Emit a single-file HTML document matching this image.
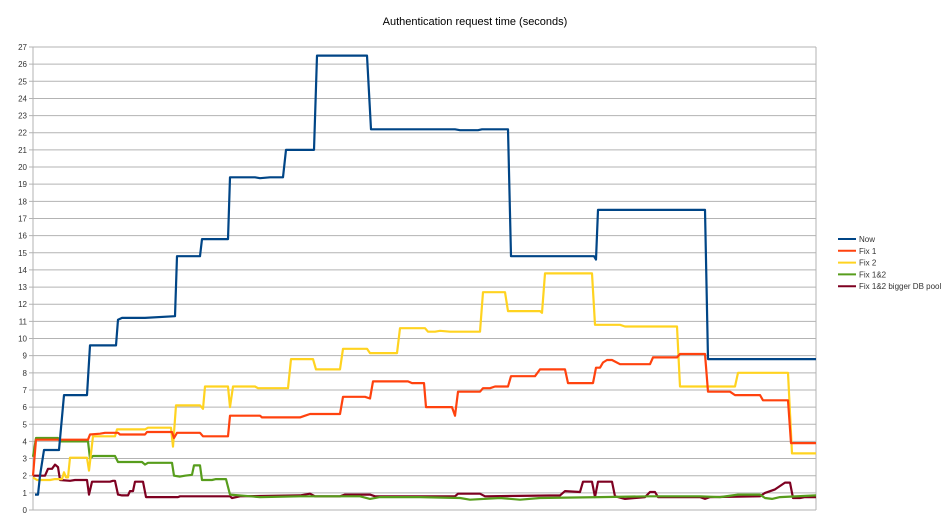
<!DOCTYPE html>
<html><head><meta charset="utf-8"><style>
body{margin:0;background:#fff;}
svg{display:block;font-family:"Liberation Sans",sans-serif;}
</style></head><body>
<svg id="chart" width="950" height="526">
<text x="475" y="25" text-anchor="middle" font-size="11" fill="#000">Authentication request time (seconds)</text>
<g id="grid"></g>
<g id="series"></g>
<g id="legend"></g>
</svg>
<script>
const seriesNames = ["Now","Fix 1","Fix 2","Fix 1&2","Fix 1&2 bigger DB pool"];
const seriesColors = ["#004586","#ff420e","#ffd320","#579d1c","#7e0021"];
const yTicks = [0,1,2,3,4,5,6,7,8,9,10,11,12,13,14,15,16,17,18,19,20,21,22,23,24,25,26,27];
const nowT = [2,5,7,11,26,31,54,57,83,85,89,112,142,144,167,169,195,197,222,227,237,250,253,281,284,334,338,422,427,445,449,475,478,561,563,565,672,675,783];
const nowV = [0.9,0.9,2.0,3.5,3.5,6.7,6.7,9.6,9.6,11.1,11.2,11.2,11.3,14.8,14.8,15.8,15.8,19.4,19.4,19.35,19.4,19.4,21.0,21.0,26.5,26.5,22.2,22.2,22.15,22.15,22.2,22.2,14.8,14.8,14.6,17.5,17.5,8.8,8.8];
const fix1T = [0,3,55,57,67,72,85,87,112,114,139,141,144,167,170,195,197,227,229,267,272,277,307,310,332,337,340,375,379,391,393,419,422,425,447,450,457,462,475,478,502,507,532,535,560,563,567,570,574,579,587,617,620,644,647,672,675,697,702,727,730,755,758,783];
const fix1V = [2.0,4.1,4.1,4.4,4.45,4.5,4.5,4.4,4.4,4.55,4.55,4.2,4.5,4.5,4.3,4.3,5.5,5.5,5.4,5.4,5.5,5.6,5.6,6.6,6.6,6.5,7.5,7.5,7.4,7.4,6.0,6.0,5.5,6.9,6.9,7.1,7.1,7.2,7.2,7.8,7.8,8.2,8.2,7.4,7.4,8.3,8.3,8.6,8.75,8.75,8.5,8.5,8.9,8.9,9.1,9.1,6.9,6.9,6.7,6.7,6.4,6.4,3.9,3.9];
const fix2T = [0,4,17,22,29,31,33,35,37,54,56,60,82,84,112,115,138,140,143,167,170,172,195,197,200,222,225,255,258,280,283,307,310,334,337,364,367,392,395,402,407,417,447,450,472,475,507,509,512,559,562,587,592,644,647,702,705,755,759,783];
const fix2V = [1.9,1.75,1.75,1.8,1.8,2.2,1.9,1.9,3.05,3.05,2.3,4.3,4.3,4.7,4.7,4.8,4.8,3.7,6.1,6.1,5.9,7.2,7.2,6.0,7.2,7.2,7.1,7.1,8.8,8.8,8.2,8.2,9.4,9.4,9.15,9.15,10.6,10.6,10.4,10.4,10.45,10.4,10.4,12.7,12.7,11.6,11.6,11.5,13.8,13.8,10.8,10.8,10.7,10.7,7.2,7.2,8.0,8.0,3.3,3.3];
const fix12T = [0,3,25,27,55,57,60,82,85,109,112,115,139,141,147,152,159,161,167,169,179,183,193,197,227,267,327,337,347,387,427,437,467,487,507,567,617,667,687,705,727,732,739,747,783];
const fix12V = [3.1,4.2,4.2,4.0,4.0,3.0,3.15,3.15,2.8,2.8,2.65,2.75,2.75,2.0,1.95,2.0,2.05,2.6,2.6,1.75,1.75,1.8,1.8,0.9,0.75,0.8,0.8,0.65,0.75,0.75,0.7,0.6,0.7,0.6,0.7,0.75,0.8,0.8,0.75,0.9,0.9,0.7,0.65,0.75,0.85];
const poolT = [0,12,15,19,22,25,27,37,42,54,56,59,77,80,82,85,89,95,97,100,102,110,113,139,145,147,197,199,207,267,277,282,307,312,337,342,422,425,447,452,527,532,547,550,559,562,565,579,582,592,612,617,622,625,667,672,677,727,732,742,752,757,760,767,772,783];
const poolV = [2.0,2.0,2.4,2.4,2.65,2.5,1.75,1.7,1.75,1.75,0.9,1.65,1.65,1.7,1.7,0.9,0.85,0.85,1.1,1.1,1.65,1.65,0.75,0.75,0.75,0.8,0.8,0.7,0.8,0.85,0.95,0.8,0.8,0.9,0.9,0.8,0.8,0.95,0.95,0.8,0.85,1.1,1.05,1.65,1.65,0.75,1.65,1.65,0.8,0.65,0.75,1.05,1.05,0.75,0.75,0.65,0.75,0.8,1.0,1.2,1.6,1.6,0.7,0.7,0.75,0.75];

const allT=[nowT,fix1T,fix2T,fix12T,poolT], allV=[nowV,fix1V,fix2V,fix12V,poolV];
const X0=33,X1=816,Y0=510,Y1=47,TMAX=783,VMAX=27;
const xs=t=>X0+(t/TMAX)*(X1-X0);
const ys=v=>Y0-(v/VMAX)*(Y0-Y1);
const NS="http://www.w3.org/2000/svg";
const grid=document.getElementById('grid');
yTicks.forEach(v=>{
  const l=document.createElementNS(NS,'line');
  l.setAttribute('x1',X0-4);l.setAttribute('x2',X1);l.setAttribute('y1',ys(v));l.setAttribute('y2',ys(v));
  l.setAttribute('stroke','#b3b3b3');l.setAttribute('stroke-width','1');
  
  
  grid.appendChild(l);
  const t=document.createElementNS(NS,'text');
  t.setAttribute('x',X0-6);t.setAttribute('y',ys(v)+3);t.setAttribute('text-anchor','end');
  t.setAttribute('font-size','8');t.setAttribute('fill','#333');
  t.textContent=v;
  
  
  grid.appendChild(t);
});
[[X0,Y1,X0,Y0],[X1,Y1,X1,Y0]].forEach(a=>{
  const l=document.createElementNS(NS,'line');
  l.setAttribute('x1',a[0]);l.setAttribute('y1',a[1]);l.setAttribute('x2',a[2]);l.setAttribute('y2',a[3]);
  l.setAttribute('stroke','#b3b3b3');
  
  
  grid.appendChild(l);
});
const sg=document.getElementById('series');
for(let i=allT.length-1;i>=0;i--){
  const p=document.createElementNS(NS,'polyline');
  p.setAttribute('points',allT[i].map((t,j)=>xs(t).toFixed(1)+','+ys(allV[i][j]).toFixed(1)).join(' '));
  p.setAttribute('fill','none');p.setAttribute('stroke',seriesColors[i]);p.setAttribute('stroke-width','2.2');
  p.setAttribute('stroke-linejoin','round');
  
  
  sg.appendChild(p);
}
const lg=document.getElementById('legend');
seriesNames.forEach((n,i)=>{
  const y=239+i*11.8;
  const l=document.createElementNS(NS,'line');
  l.setAttribute('x1',838);l.setAttribute('x2',856);l.setAttribute('y1',y);l.setAttribute('y2',y);
  l.setAttribute('stroke',seriesColors[i]);l.setAttribute('stroke-width','2');
  
  
  lg.appendChild(l);
  const t=document.createElementNS(NS,'text');
  t.setAttribute('x',859);t.setAttribute('y',y+3);t.setAttribute('font-size','8');t.setAttribute('fill','#333');
  t.textContent=n;
  
  
  lg.appendChild(t);
});
</script>
</body></html>
